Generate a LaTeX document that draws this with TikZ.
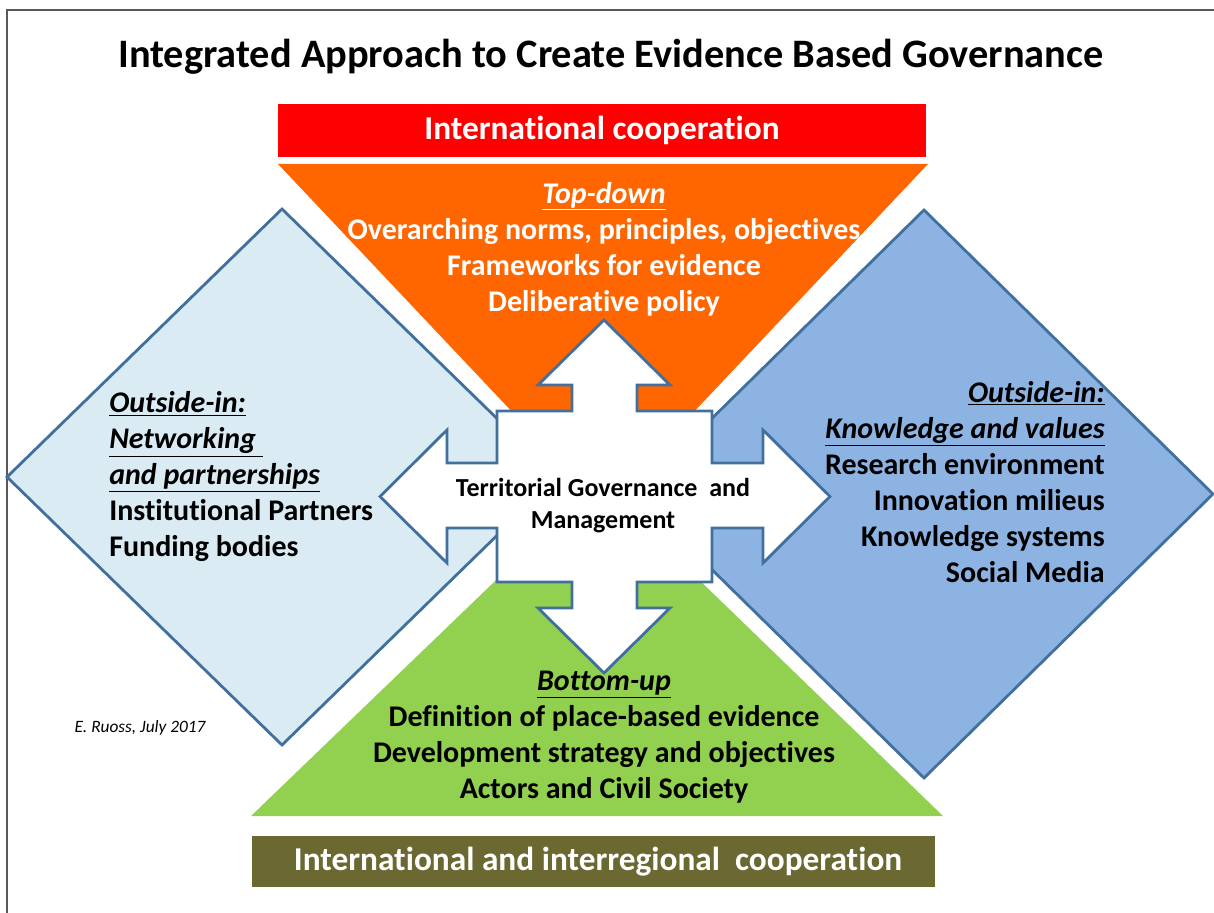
\documentclass[tikz,border=0pt]{standalone}
\usepackage{fontspec}
\setmainfont{Carlito}[Ligatures=NoCommon]
\usetikzlibrary{positioning}
\definecolor{barred}{HTML}{FF0000}
\definecolor{toporange}{HTML}{FF6600}
\definecolor{botgreen}{HTML}{92D050}
\definecolor{leftblue}{HTML}{DAEBF3}
\definecolor{rightblue}{HTML}{8DB3E2}
\definecolor{edgeblue}{HTML}{41709E}
\definecolor{olivebar}{HTML}{6B6832}

\begin{document}
\begin{tikzpicture}[x=0.75pt,y=-0.75pt,
                    rim/.style={draw=edgeblue,line width=2.1pt,line join=miter},
                    body/.style={font=\bfseries\fontsize{22.5}{27}\selectfont,inner sep=0pt},
                    bartext/.style={text=white,font=\bfseries\fontsize{25}{29}\selectfont}]
      \useasboundingbox (0,0) rectangle (1214,913);
      \draw[gray!70!black,line width=0.8pt] (7,913) -- (7,10) -- (1214,10);
      \node[font=\bfseries\fontsize{30.3}{36}\selectfont,anchor=base](T) at (611,68)
            {Integrated Approach to Create Evidence Based Governance};

      \path[fill=barred]   (278,104) rectangle node[bartext] (IC) {International cooperation} (926,157);
      \fill[olivebar]      (252,836) rectangle (935,887);
      \node[bartext](IIC) at (598,862) {International and interregional\ \ cooperation};

      \fill[toporange] (278,164) -- (928,164) -- (603,508) -- cycle;
      \fill[botgreen]  (251,816) -- (943,816) -- (598,482) -- cycle;
      \draw[rim,fill=leftblue]  (282,209) -- (557,477) -- (282,745) -- (7,477)   -- cycle;
      \draw[rim,fill=rightblue] (924,210) -- (1213,494) -- (924,778) -- (635,494) -- cycle;

      \draw[rim,fill=white] (604,320) -- (670,385) -- (637,385) -- (637,411) -- (712,411)
            -- (712,463) -- (763,463) -- (763,430) -- (830,496.5) -- (763,563) -- (763,528)
            -- (712,528) -- (712,582) -- (637,582) -- (637,608) -- (670,608) -- (604,673)
            -- (538,608) -- (572,608) -- (572,582) -- (497,582) -- (497,528) -- (447,528)
            -- (447,563) -- (380,496.5) -- (447,430) -- (447,463) -- (497,463) -- (497,411)
            -- (572,411) -- (572,385) -- (538,385) -- cycle;

      \node[font=\bfseries\fontsize{19.5}{24}\selectfont,align=center](TG) at (603,506)
            {Territorial Governance\ \ and\\Management};
      \node[body,text=white,align=center](TD) at (604,249)
            {\underline{\textit{Top-down}}\\Overarching norms, principles, objectives\\
             Frameworks for evidence\\Deliberative policy};
      \node[body,align=center](BU) at (604,737)
            {\underline{\textit{Bottom-up}}\\Definition of place-based evidence\\
             Development strategy and objectives\\Actors and Civil Society};
      \node[body,align=left,anchor=west](NP) at (109,477)
            {\underline{\textit{Outside-in:}}\\\underline{\textit{Networking }}\\
             \underline{\textit{and partnerships}}\\Institutional Partners\\Funding bodies};
      \node[body,align=right,anchor=east](KV) at (1105,482)
            {\underline{\textit{Outside-in:}}\\\underline{\textit{Knowledge and values}}\\
             Research environment\\Innovation milieus\\Knowledge systems\\Social Media};
      \node[font=\itshape\fontsize{13}{15}\selectfont](ER) at (140,728) {E. Ruoss, July 2017};
\end{tikzpicture}
\end{document}
